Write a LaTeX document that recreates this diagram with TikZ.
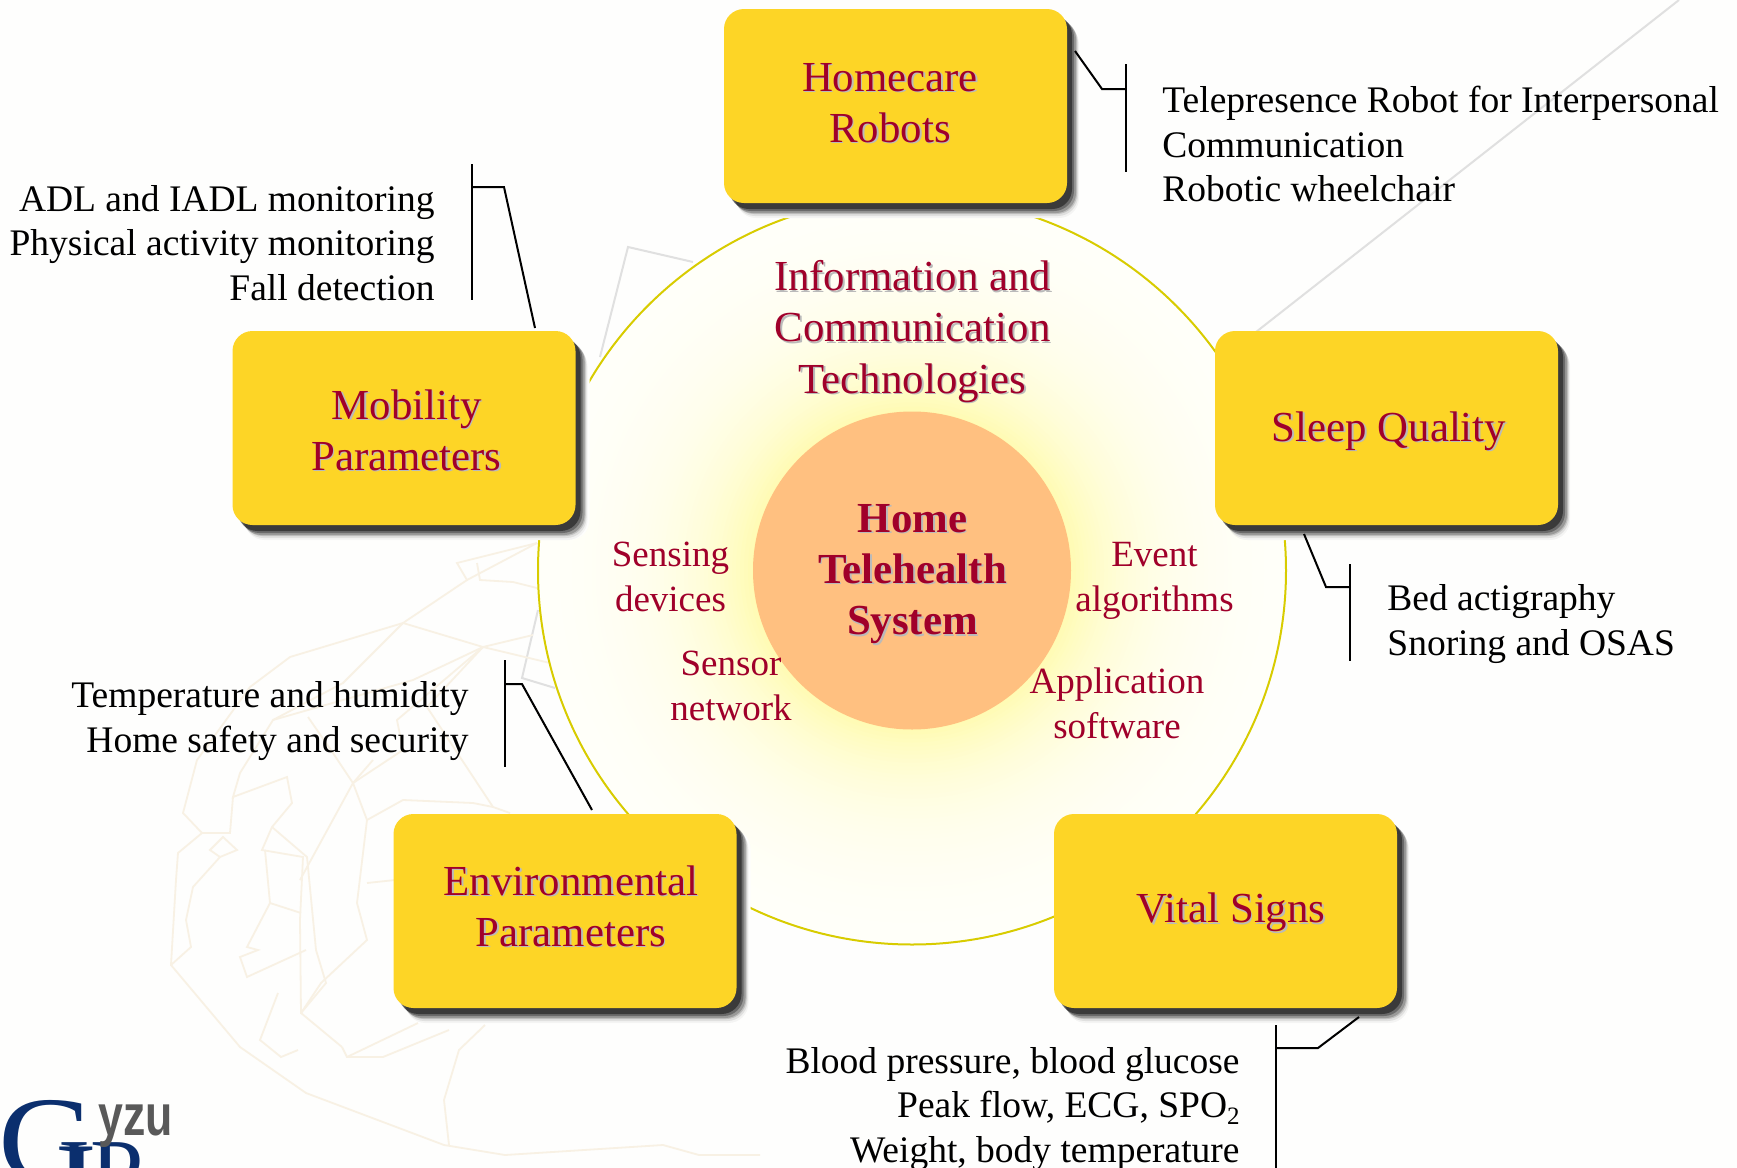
\documentclass[tikz,border=0pt]{standalone}
\usepackage{fontspec}
\setmainfont{Liberation Serif}
\newfontfamily\logofont{Liberation Sans}
\usepackage{tikz}
\usetikzlibrary{shadows}
\definecolor{boxyellow}{HTML}{FDD526}
\definecolor{headred}{HTML}{A0002A}
\definecolor{ringyellow}{HTML}{D8CC00}
\definecolor{hubfill}{HTML}{FFC080}
\definecolor{maptan}{HTML}{F8F1E4}
\definecolor{logoblue}{HTML}{0B2F6E}
\definecolor{pagewhite}{HTML}{FEFEFD}
\tikzset{
	boxnode/.style={shape=rectangle,rounded corners=10pt,fill=boxyellow,minimum width=171.5pt,minimum height=97pt,
		general shadow={shadow xshift=7pt,shadow yshift=-7.5pt,fill=pagewhite,opacity=1},
		general shadow={shadow xshift=6pt,shadow yshift=-7.5pt,fill=black,opacity=0.04},
		general shadow={shadow xshift=5.5pt,shadow yshift=-6.5pt,fill=black,opacity=0.08},
		general shadow={shadow xshift=5pt,shadow yshift=-5.5pt,fill=black,opacity=0.14},
		general shadow={shadow xshift=4.5pt,shadow yshift=-5pt,fill=black,opacity=0.2},
		general shadow={shadow xshift=3.5pt,shadow yshift=-4pt,fill=black,opacity=0.3},
		general shadow={shadow xshift=2.5pt,shadow yshift=-3pt,fill=black,opacity=0.45}},
	headnode/.style={align=center,font=\fontsize{21.4}{25.6}\selectfont,text=headred},
	headshade/.style={align=center,font=\fontsize{21.4}{25.6}\selectfont,text=black!27},
	subnode/.style={align=center,font=\fontsize{18.5}{22.2}\selectfont,text=headred},
	listnode/.style={inner sep=0pt,font=\fontsize{18.75}{22.4}\selectfont,text=black},
	leader/.style={draw=black,line width=1pt},
	mapline/.style={draw=maptan,line width=0.9pt},
	greyline/.style={draw=black!12,line width=1pt}
}
\begin{document}
\begin{tikzpicture}[x=0.5pt,y=-0.5pt]
	\useasboundingbox (0,0) rectangle (1737,1168);
	\clip (0,0) rectangle (1737,1168);
	\fill[pagewhite] (0,0) rectangle (1737,1168);

	% faint background
	\draw[greyline] (1256,332) -- (1679,0);
	\draw[greyline] (600,357) -- (628,247) -- (693,262);
	\draw[greyline] (538,610) -- (522,678) -- (555,688);
	\draw[mapline] (537,543) -- (457,563) -- (467,580) -- (403,623) -- (290,657) -- (250,687) -- (197,760) -- (183,813) -- (202,833) -- (178,853) -- (176,880) -- (171,965) -- (240,1047) -- (306,1093) -- (444,1145) -- (505,1155) -- (663,1145) -- (699,1155) -- (760,1155);
	\draw[mapline] (477,563) -- (480,580) -- (513,582) -- (537,588);
	\draw[mapline] (467,580) -- (537,543);
	\draw[mapline] (403,623) -- (483,647) -- (550,663);
	\draw[mapline] (483,647) -- (533,635);
	\draw[mapline] (403,623) -- (343,683) -- (273,720);
	\draw[mapline] (483,647) -- (413,680) -- (273,720) -- (240,773) -- (233,797) -- (287,777) -- (292,803) -- (272,827) -- (262,850) -- (303,857) -- (300,920) -- (301,1013) -- (342,1047);
	\draw[mapline] (483,647) -- (427,707) -- (493,807) -- (510,813);
	\draw[mapline] (483,647) -- (397,720) -- (403,750) -- (353,783) -- (367,820) -- (357,903) -- (367,940) -- (321,983) -- (301,1013);
	\draw[mapline] (308,717) -- (333,753) -- (353,783) -- (300,880);
	\draw[mapline] (367,820) -- (403,800) -- (473,803) -- (493,807);
	\draw[mapline] (233,797) -- (230,833) -- (202,833);
	\draw[mapline] (210,850) -- (220,857) -- (237,850) -- (223,837) -- cycle;
	\draw[mapline] (220,857) -- (193,887) -- (186,920) -- (191,947) -- (171,965);
	\draw[mapline] (272,827) -- (307,857) -- (316,950) -- (326,983) -- (301,1013);
	\draw[mapline] (373,760) -- (353,783);
	\draw[mapline] (367,883) -- (395,880);
	\draw[mapline] (265,850) -- (270,903) -- (247,947) -- (258,950) -- (240,957) -- (247,977) -- (306,950);
	\draw[mapline] (270,903) -- (301,913);
	\draw[mapline] (342,1047) -- (347,1057) -- (383,1057) -- (449,1030);
	\draw[mapline] (347,1057) -- (418,1023);
	\draw[mapline] (485,1025) -- (459,1050) -- (444,1100) -- (449,1145);
	\draw[mapline] (278,993) -- (260,1040) -- (281,1057) -- (298,1050);

	% ring and hub
	\fill[white] (912,570.5) circle (374);
	\foreach \r in {372,368,...,156}{
		\pgfmathsetmacro{\glow}{30*exp(-(\r-159)/72)+0.6}
		\fill[yellow!\glow!white] (912,570.5) circle (\r);
	}
	\draw[draw=ringyellow,line width=1pt] (912,570.5) circle (374);
	\node[shape=circle,fill=hubfill,minimum size=159pt,inner sep=0pt] (hub) at (912,570.5) {};

	% boxes
	\node[boxnode] (homecare) at (895.5,106) {};
	\node[boxnode] (mobility) at (404,428) {};
	\node[boxnode] (sleep)    at (1386.5,428) {};
	\node[boxnode] (environ)  at (565,911) {};
	\node[boxnode] (vital)    at (1225.5,911) {};

	% box and ring labels
	\node[headshade] (homecares) at (891.5,104.5) {Homecare\\Robots};
	\node[headnode]  (homecaret) at (890,103) {Homecare\\Robots};
	\node[headshade] (mobilitys) at (408,431.5) {Mobility\\Parameters};
	\node[headnode]  (mobilityt) at (406.5,430) {Mobility\\Parameters};
	\node[headshade] (sleeps) at (1390.5,432.5) {Sleep Quality};
	\node[headnode]  (sleept) at (1389,431) {Sleep Quality};
	\node[headshade] (environs) at (572.5,907.5) {Environmental\\Parameters};
	\node[headnode]  (environt) at (571,906) {Environmental\\Parameters};
	\node[headshade] (vitals) at (1232.5,914) {Vital Signs};
	\node[headnode]  (vitalt) at (1231,912.5) {Vital Signs};
	\node[headshade] (techs) at (914,333) {Information and\\Communication\\Technologies};
	\node[headnode]  (techt) at (912.5,331.5) {Information and\\Communication\\Technologies};
	\node[headshade,font=\fontsize{21.4}{25.6}\selectfont\bfseries] (hubs) at (914,575.5) {Home\\Telehealth\\System};
	\node[headnode,font=\fontsize{21.4}{25.6}\selectfont\bfseries]  (hubt) at (912.5,574) {Home\\Telehealth\\System};

	\node[subnode] (sensing) at (670.5,577) {Sensing\\devices};
	\node[subnode] (event)   at (1154.5,581) {Event\\algorithms};
	\node[subnode] (sensor)  at (731,686) {Sensor\\network};
	\node[subnode] (apps)    at (1117,703.5) {Application\\software};

	% lists
	\node[listnode,anchor=west,align=left]  (homecarelist) at (1162,144) {Telepresence Robot for Interpersonal\\Communication\\Robotic wheelchair};
	\node[listnode,anchor=east,align=right] (mobilitylist) at (435,243)  {ADL and IADL monitoring\\Physical activity monitoring\\Fall detection};
	\node[listnode,anchor=east,align=right] (environlist)  at (469,721)  {Temperature and humidity\\Home safety and security};
	\node[listnode,anchor=west,align=left]  (sleeplist)    at (1387,624) {Bed actigraphy\\Snoring and OSAS};
	\node[listnode,anchor=east,align=right] (vitallist)    at (1240,1109) {Blood pressure, blood glucose\\Peak flow, ECG, SPO\raisebox{-3.5pt}{\fontsize{12.5}{12.5}\selectfont 2}\\Weight, body temperature};

	% leaders
	\coordinate (h1) at (1075,51);
	\coordinate (h2) at (1102,89);
	\coordinate (h3) at (1126,89);
	\coordinate (h4) at (1126,64);
	\coordinate (h5) at (1126,172);
	\draw[leader] (h1) -- (h2) -- (h3);
	\draw[leader] (h4) -- (h5);

	\coordinate (m1) at (535,328);
	\coordinate (m2) at (504,187);
	\coordinate (m3) at (472,187);
	\coordinate (m4) at (472,164);
	\coordinate (m5) at (472,300);
	\draw[leader] (m1) -- (m2) -- (m3);
	\draw[leader] (m4) -- (m5);

	\coordinate (e1) at (592,810);
	\coordinate (e2) at (522,684);
	\coordinate (e3) at (505,684);
	\coordinate (e4) at (505,660);
	\coordinate (e5) at (505,767);
	\draw[leader] (e1) -- (e2) -- (e3);
	\draw[leader] (e4) -- (e5);

	\coordinate (s1) at (1304,534);
	\coordinate (s2) at (1326,587);
	\coordinate (s3) at (1350,587);
	\coordinate (s4) at (1350,564);
	\coordinate (s5) at (1350,661);
	\draw[leader] (s1) -- (s2) -- (s3);
	\draw[leader] (s4) -- (s5);

	\coordinate (v1) at (1359,1017);
	\coordinate (v2) at (1318,1048);
	\coordinate (v3) at (1276,1048);
	\coordinate (v4) at (1276,1025);
	\coordinate (v5) at (1276,1170);
	\draw[leader] (v1) -- (v2) -- (v3);
	\draw[leader] (v4) -- (v5);

	% logo
	\node[font=\fontsize{62}{62}\selectfont,text=logoblue,inner sep=0pt,anchor=base west,xscale=1.1] (logog) at (-2,1182) {G};
	\node[font=\fontsize{48}{48}\selectfont,text=logoblue,inner sep=0pt,anchor=base west] (logoi) at (58,1205) {IP};
	\node[font=\logofont\bfseries\fontsize{29}{29}\selectfont,text=black!65,inner sep=0pt,anchor=base west,xscale=0.77] (logoy) at (98,1135) {yzu};
\end{tikzpicture}
\end{document}
